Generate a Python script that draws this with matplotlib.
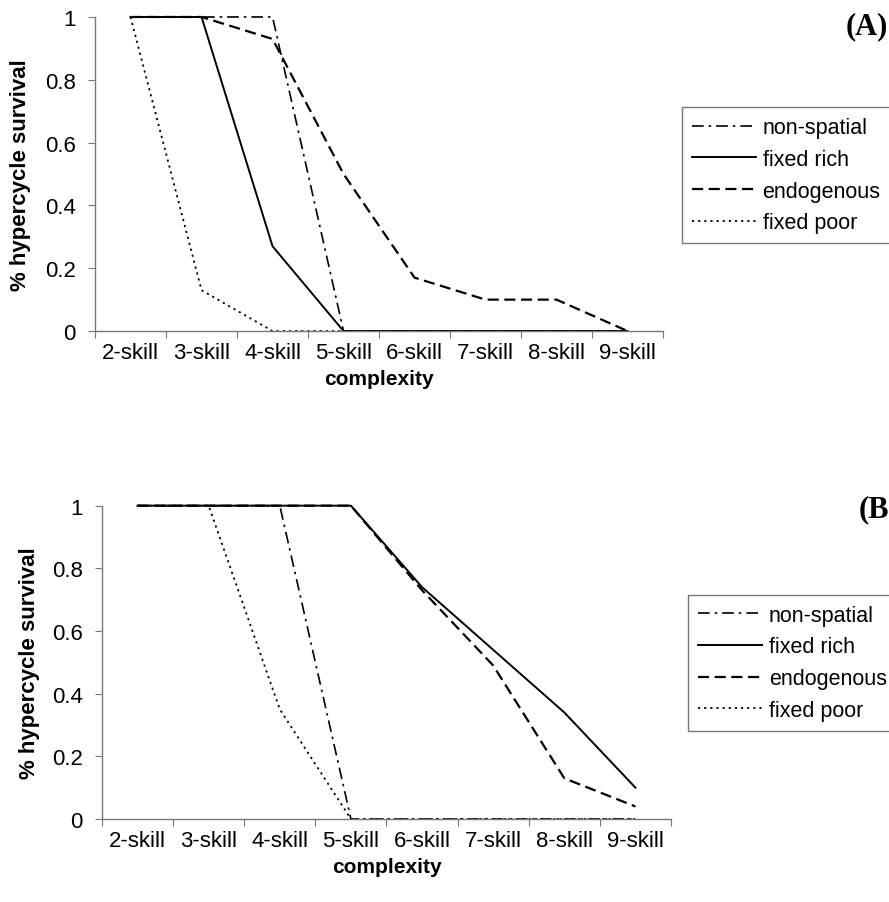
"""Hypercycle survival against complexity, two panels (A) and (B)."""

from matplotlib import pyplot
import numpy as np

skills = ['2-skill', '3-skill', '4-skill', '5-skill',
          '6-skill', '7-skill', '8-skill', '9-skill']
series_names = ['non-spatial', 'fixed rich', 'endogenous', 'fixed poor']

# Panel (A) values.
a_nonspatial = [1.0, 1.0, 1.0, 0.0, 0.0, 0.0, 0.0, 0.0]
a_fixed_rich = [1.0, 1.0, 0.27, 0.0, 0.0, 0.0, 0.0, 0.0]
a_endogenous = [1.0, 1.0, 0.93, 0.5, 0.17, 0.1, 0.1, 0.0]
a_fixed_poor = [1.0, 0.13, 0.0, 0.0, 0.0, 0.0, 0.0, 0.0]

# Panel (B) values.
b_nonspatial = [1.0, 1.0, 1.0, 0.0, 0.0, 0.0, 0.0, 0.0]
b_fixed_rich = [1.0, 1.0, 1.0, 1.0, 0.74, 0.54, 0.34, 0.1]
b_endogenous = [1.0, 1.0, 1.0, 1.0, 0.73, 0.49, 0.13, 0.04]
b_fixed_poor = [1.0, 1.0, 0.35, 0.0, 0.0, 0.0, 0.0, 0.0]

styles = [
    dict(linestyle=(0, (7, 3, 1.5, 3)), linewidth=1.2),
    dict(linestyle='-', linewidth=1.4),
    dict(linestyle=(0, (5, 2.5)), linewidth=1.6),
    dict(linestyle=(0, (1.2, 2.2)), linewidth=1.3),
]

pyplot.rc('font', family='Liberation Sans', size=16)
fig = pyplot.figure(figsize=(8.89, 9.03), dpi=100)
ax_a = fig.add_axes([0.1069, 0.6323, 0.6389, 0.3478])
ax_b = fig.add_axes([0.1147, 0.0919, 0.6401, 0.3470])

x = np.arange(len(skills))
panels = [
    (ax_a, [a_nonspatial, a_fixed_rich, a_endogenous, a_fixed_poor],
     (0.767, 0.880), 0.113),
    (ax_b, [b_nonspatial, b_fixed_rich, b_endogenous, b_fixed_poor],
     (0.774, 0.340), 0.109),
]
for ax, data, legpos, ylab_x in panels:
    for values, name, style in zip(data, series_names, styles):
        ax.plot(x, values, color='black', label=name, clip_on=False,
                **style)
    ax.set_xlim(-0.5, len(skills) - 0.5)
    ax.set_ylim(0.0, 1.0)
    for side in ('top', 'right'):
        ax.spines[side].set_visible(False)
    for side in ('left', 'bottom'):
        ax.spines[side].set_color('#777777')
        ax.spines[side].set_linewidth(1.0)
    # Category boundaries get tick marks, centres get the labels.
    ax.set_xticks(np.arange(-0.5, len(skills), 1.0))
    ax.set_xticklabels([])
    ax.set_xticks(x, labels=skills, minor=True)
    ax.tick_params(axis='x', which='major', length=5, color='#777777')
    ax.tick_params(axis='x', which='minor', length=0, pad=8)
    yticks = [0.0, 0.2, 0.4, 0.6, 0.8, 1.0]
    ax.set_yticks(yticks, labels=['0', '0.2', '0.4', '0.6', '0.8', '1'])
    ax.tick_params(axis='y', length=5, pad=9, color='#777777')
    ax.set_xlabel('complexity', fontsize=15, fontweight='bold', labelpad=4)
    ax.set_ylabel('% hypercycle survival', fontsize=16, fontweight='bold')
    ax.yaxis.set_label_coords(-ylab_x, 0.5)
    leg = ax.legend(loc='upper left', bbox_to_anchor=legpos,
                    bbox_transform=fig.transFigure, borderaxespad=0,
                    fontsize=15.5, handlelength=3.0, handletextpad=0.3,
                    labelspacing=0.5, borderpad=0.45, fancybox=False,
                    frameon=True)
    leg.get_frame().set_edgecolor('#555555')
    leg.get_frame().set_linewidth(1.0)

fig.text(888 / 889, 1 - 27 / 903, '(A)', family='Liberation Serif',
         fontsize=22, fontweight='bold', ha='right', va='center')
fig.text(859 / 889, 1 - 510 / 903, '(B)', family='Liberation Serif',
         fontsize=22, fontweight='bold', ha='left', va='center')

fig.savefig('out.png', dpi=100)
